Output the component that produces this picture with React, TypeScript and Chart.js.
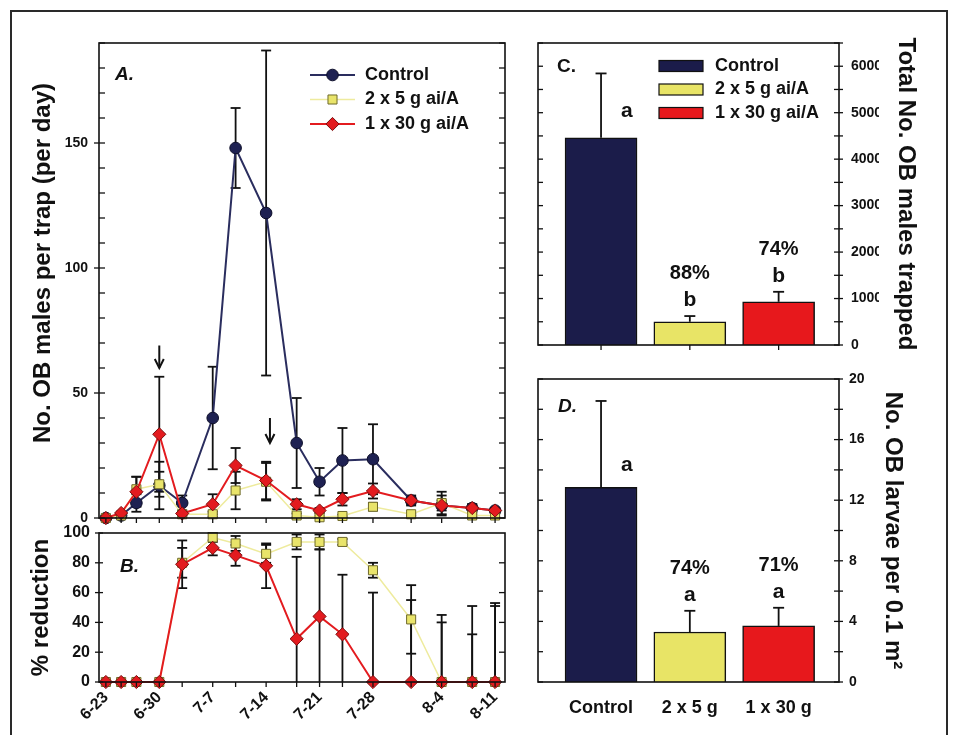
import React, { useEffect, useRef } from 'react';
import { Chart, registerables } from 'chart.js';

Chart.register(...registerables);

const W = 953;
const H = 735;
const FONT = '"Liberation Sans", Arial, Helvetica, sans-serif';
Chart.defaults.font.family = FONT;
Chart.defaults.color = '#111';

// ---------------- data ----------------
// sampling dates, days after 6-23
const sampleDays = [0, 2, 4, 7, 10, 14, 17, 21, 25, 28, 31, 35, 40, 44, 48, 51];
const dateTickDays = [0, 7, 14, 21, 28, 35, 44, 51];
const dateTickLabels = ['6-23', '6-30', '7-7', '7-14', '7-21', '7-28', '8-4', '8-11'];
const seriesNames = ['Control', '2 x 5 g ai/A', '1 x 30 g ai/A'];

// Panel A: males per trap per day
const controlMales = [0, 1, 6, 13, 6, 40, 148, 122, 30, 14.5, 23, 23.5, 7, 5, 4, 3];
const controlMalesSE = [0, 0.5, 3.5, 9.5, 3, 20.5, 16, 65, 18, 5.5, 13, 14, 1.5, 4, 1.5, 1];
const lowDoseMales = [0, 1, 11.5, 13.5, 1.5, 1.5, 11, 14.5, 1, 0.3, 0.8, 4.5, 1.5, 6, 1, 1];
const lowDoseMalesSE = [0, 0.5, 5, 5, 0.5, 1, 7.5, 7.5, 0.8, 0.3, 0.5, 1.5, 0.5, 4.5, 0.5, 0.5];
const highDoseMales = [0, 2, 10.5, 33.5, 1.8, 5.5, 21, 15, 5.5, 3, 7.5, 10.8, 7, 5, 4, 3];
const highDoseMalesSE = [0, 0.5, 6, 23, 0.8, 4, 7, 7.5, 2, 1, 2.5, 3, 2, 2, 1.5, 1];
// application arrows (day, arrow top value, arrow tip value)
const arrowDays = [7, 21.5];
const arrowTops = [69, 40];
const arrowTips = [60, 30];

// Panel B: % reduction
const lowDoseReduction = [0, 0, 0, 0, 80, 97, 93, 86, 94, 94, 94, 75, 42, 0, 0, 0];
const lowDoseReductionSE = [0, 0, 0, 0, 10, 3, 5, 6, 5, 5, 2, 5, 23, 40, 32, 51];
const highDoseReduction = [0, 0, 0, 0, 79, 90, 85, 78, 29, 44, 32, 0, 0, 0, 0, 0];
const highDoseReductionSE = [0, 0, 0, 0, 16, 5, 7, 15, 55, 45, 40, 60, 55, 45, 51, 53];

// Panels C & D
const treatmentPos = [1, 2, 3];
const treatmentShort = ['Control', '2 x 5 g', '1 x 30 g'];
const totalMales = [4460, 500, 930];
const totalMalesSE = [1385, 123, 215];
const totalMalesLetters = ['a', 'b', 'b'];
const totalMalesPct = ['', '88%', '74%'];
const totalMalesControlLetterAt = 4900;
const larvae = [12.85, 3.3, 3.7];
const larvaeSE = [5.7, 1.4, 1.2];
const larvaeLetters = ['a', 'a', 'a'];
const larvaePct = ['', '74%', '71%'];
const larvaeControlLetterAt = 13.9;

// ---------------- styles ----------------
const NAVY = '#1e2152';
const NAVY_LINE = '#2a2d5e';
const YELLOW = '#e9e46a';
const YELLOW_LINE = '#eeeb9e';
const YELLOW_EDGE = '#6f6a2a';
const RED = '#e31b1f';
const RED_EDGE = '#7a0c0c';
const BAR_COLORS = ['#1b1c4a', '#e8e466', '#e7181c'];
const INK = '#111';

const lineStyles: any[] = [
  { borderColor: NAVY_LINE, borderWidth: 2, pointStyle: 'circle', pointRadius: 5.8, pointBackgroundColor: NAVY, pointBorderColor: '#0c0d28' },
  { borderColor: YELLOW_LINE, borderWidth: 1.5, pointStyle: 'rect', pointRadius: 6.4, pointBackgroundColor: YELLOW, pointBorderColor: YELLOW_EDGE },
  { borderColor: RED, borderWidth: 2, pointStyle: 'rectRot', pointRadius: 6.6, pointBackgroundColor: RED, pointBorderColor: RED_EDGE },
];

// ---------------- helpers ----------------
function fixSize(size: number) {
  return (s: any) => {
    if (s.isHorizontal()) s.height = size;
    else s.width = size;
    s.paddingLeft = 0;
    s.paddingRight = 0;
    s.paddingTop = 0;
    s.paddingBottom = 0;
  };
}

function seg(ctx: any, x1: number, y1: number, x2: number, y2: number) {
  ctx.beginPath();
  ctx.moveTo(x1, y1);
  ctx.lineTo(x2, y2);
  ctx.stroke();
}

function drawFrame(chart: any) {
  const { ctx, chartArea: a } = chart;
  ctx.save();
  ctx.strokeStyle = INK;
  ctx.lineWidth = 1.6;
  ctx.strokeRect(a.left, a.top, a.right - a.left, a.bottom - a.top);
  ctx.restore();
}

function drawTickMarks(chart: any, scaleId: string, side: string, values: number[] | null, inLen: number, outLen: number, majorOut?: (v: number) => boolean) {
  const { ctx, chartArea: a } = chart;
  const s = chart.scales[scaleId];
  const vals = values ?? s.ticks.map((t: any) => t.value);
  ctx.save();
  ctx.strokeStyle = INK;
  ctx.lineWidth = 1.3;
  vals.forEach((v: number) => {
    const p = s.getPixelForValue(v);
    const out = majorOut ? (majorOut(v) ? outLen : 0) : outLen;
    if (side === 'left') seg(ctx, a.left - out, p, a.left + inLen, p);
    else if (side === 'right') seg(ctx, a.right - inLen, p, a.right + out, p);
    else if (side === 'bottom') seg(ctx, p, a.bottom - inLen, p, a.bottom + out);
  });
  ctx.restore();
}

function drawErrorBars(chart: any, xs: number[], means: number[], ses: number[], cap: number, upOnly: boolean) {
  const { ctx, chartArea: a } = chart;
  const sx = chart.scales.x;
  const sy = chart.scales.y;
  ctx.save();
  ctx.beginPath();
  ctx.rect(a.left - cap, a.top - 1, a.right - a.left + 2 * cap, a.bottom - a.top + 1);
  ctx.clip();
  ctx.strokeStyle = INK;
  ctx.lineWidth = 1.8;
  xs.forEach((xv, i) => {
    const se = ses[i];
    if (!se) return;
    const x = sx.getPixelForValue(xv);
    const yTop = sy.getPixelForValue(means[i] + se);
    const yBot = sy.getPixelForValue(upOnly ? means[i] : means[i] - se);
    seg(ctx, x, yTop, x, yBot);
    seg(ctx, x - cap / 2, yTop, x + cap / 2, yTop);
    if (!upOnly) seg(ctx, x - cap / 2, yBot, x + cap / 2, yBot);
  });
  ctx.restore();
}

function drawMarker(ctx: any, style: string, x: number, y: number, r: number, fill: string, stroke: string) {
  ctx.beginPath();
  if (style === 'circle') ctx.arc(x, y, r, 0, Math.PI * 2);
  else if (style === 'rect') {
    const s = r * Math.SQRT1_2;
    ctx.rect(x - s, y - s, 2 * s, 2 * s);
  } else {
    ctx.moveTo(x, y - r);
    ctx.lineTo(x + r, y);
    ctx.lineTo(x, y + r);
    ctx.lineTo(x - r, y);
    ctx.closePath();
  }
  ctx.fillStyle = fill;
  ctx.fill();
  ctx.strokeStyle = stroke;
  ctx.lineWidth = 1;
  ctx.stroke();
}

function text(ctx: any, str: string, x: number, y: number, font: string, align = 'left', baseline = 'alphabetic', rot = 0) {
  ctx.save();
  ctx.translate(x, y);
  ctx.rotate(rot);
  ctx.font = font;
  ctx.fillStyle = INK;
  ctx.textAlign = align;
  ctx.textBaseline = baseline;
  ctx.fillText(str, 0, 0);
  ctx.restore();
}

const bold = (px: number) => `bold ${px}px ${FONT}`;
const boldItalic = (px: number) => `italic bold ${px}px ${FONT}`;

function lineDatasets(series: number[][], styleIdx: number[]) {
  return series.map((arr, k) => ({
    label: seriesNames[styleIdx[k]],
    data: sampleDays.map((d, i) => ({ x: d, y: arr[i] })),
    ...lineStyles[styleIdx[k]],
    pointBorderWidth: 1,
    tension: 0,
    clip: false,
    order: 3 - styleIdx[k],
  }));
}

const dayAxis = { type: 'linear', min: -0.9, max: 52.3, offset: false };

// ---------------- Panel A ----------------
function configA(): any {
  const decor = {
    id: 'decorA',
    beforeDatasetsDraw(chart: any) {
      drawErrorBars(chart, sampleDays, controlMales, controlMalesSE, 10, false);
      drawErrorBars(chart, sampleDays, lowDoseMales, lowDoseMalesSE, 10, false);
      drawErrorBars(chart, sampleDays, highDoseMales, highDoseMalesSE, 10, false);
    },
    afterDraw(chart: any) {
      const { ctx } = chart;
      drawFrame(chart);
      drawTickMarks(chart, 'y', 'left', null, 6, 5, (v) => v % 50 === 0);
      drawTickMarks(chart, 'y', 'right', null, 6, 0);
      drawTickMarks(chart, 'x', 'bottom', sampleDays, 0, 5);
      // arrows
      const sx = chart.scales.x;
      const sy = chart.scales.y;
      ctx.save();
      ctx.strokeStyle = INK;
      ctx.lineWidth = 2;
      arrowDays.forEach((d, i) => {
        const x = sx.getPixelForValue(d);
        const y0 = sy.getPixelForValue(arrowTops[i]);
        const y1 = sy.getPixelForValue(arrowTips[i]);
        seg(ctx, x, y0, x, y1);
        ctx.beginPath();
        ctx.moveTo(x - 4.5, y1 - 9);
        ctx.lineTo(x, y1);
        ctx.lineTo(x + 4.5, y1 - 9);
        ctx.stroke();
      });
      ctx.restore();
      // legend
      const rows = [75, 99.5, 124];
      chart.data.datasets.forEach((ds: any, i: number) => {
        const y = rows[i];
        ctx.save();
        ctx.strokeStyle = ds.borderColor;
        ctx.lineWidth = ds.borderWidth;
        seg(ctx, 310, y, 355, y);
        drawMarker(ctx, ds.pointStyle, 332.5, y, ds.pointRadius, ds.pointBackgroundColor, ds.pointBorderColor);
        ctx.restore();
        text(ctx, ds.label, 365, y, bold(18), 'left', 'middle');
      });
      text(ctx, 'A.', 115, 80, boldItalic(19));
      text(ctx, 'No. OB males per trap (per day)', 43.5, 263, bold(24), 'center', 'middle', -Math.PI / 2);
    },
  };
  return {
    type: 'line',
    data: { datasets: lineDatasets([controlMales, lowDoseMales, highDoseMales], [0, 1, 2]) },
    options: {
      responsive: false,
      animation: false,
      events: [],
      layout: { padding: { left: 99 - 45, top: 43, right: W - 505, bottom: H - 518 } },
      plugins: { legend: { display: false }, tooltip: { enabled: false } },
      scales: {
        x: { ...dayAxis, display: false },
        y: {
          type: 'linear',
          min: 0,
          max: 190,
          afterFit: fixSize(45),
          grid: { display: false, drawTicks: false },
          border: { display: false },
          ticks: {
            stepSize: 10,
            autoSkip: false,
            padding: 11,
            font: { size: 14, weight: 'bold' },
            color: INK,
            callback: (v: any) => (Number(v) % 50 === 0 ? String(v) : ''),
          },
        },
      },
    },
    plugins: [decor],
  };
}

// ---------------- Panel B ----------------
function configB(): any {
  const decor = {
    id: 'decorB',
    beforeDatasetsDraw(chart: any) {
      drawErrorBars(chart, sampleDays, lowDoseReduction, lowDoseReductionSE, 10, false);
      drawErrorBars(chart, sampleDays, highDoseReduction, highDoseReductionSE, 10, false);
    },
    afterDraw(chart: any) {
      const { ctx } = chart;
      drawFrame(chart);
      drawTickMarks(chart, 'y', 'left', null, 4, 4);
      drawTickMarks(chart, 'y', 'right', [20, 40, 60, 80], 6, 0);
      drawTickMarks(chart, 'x', 'bottom', sampleDays, 0, 5);
      text(ctx, 'B.', 120, 572, boldItalic(19));
      text(ctx, '% reduction', 41.5, 607.5, bold(24), 'center', 'middle', -Math.PI / 2);
    },
  };
  return {
    type: 'line',
    data: { datasets: lineDatasets([lowDoseReduction, highDoseReduction], [1, 2]) },
    options: {
      responsive: false,
      animation: false,
      events: [],
      layout: { padding: { left: 99 - 45, top: 533, right: W - 505, bottom: H - 682 - 50 } },
      plugins: { legend: { display: false }, tooltip: { enabled: false } },
      scales: {
        x: {
          ...dayAxis,
          afterBuildTicks: (s: any) => {
            s.ticks = dateTickDays.map((v) => ({ value: v }));
          },
          afterFit: fixSize(50),
          grid: { display: false, drawTicks: false },
          border: { display: false },
          ticks: {
            autoSkip: false,
            minRotation: 45,
            maxRotation: 45,
            padding: 6,
            font: { size: 16, weight: 'bold' },
            color: INK,
            callback: (v: any) => {
              const i = dateTickDays.indexOf(Number(v));
              return i >= 0 ? dateTickLabels[i] : '';
            },
          },
        },
        y: {
          type: 'linear',
          min: 0,
          max: 100,
          afterFit: fixSize(45),
          grid: { display: false, drawTicks: false },
          border: { display: false },
          ticks: { stepSize: 20, padding: 9, font: { size: 16, weight: 'bold' }, color: INK },
        },
      },
    },
    plugins: [decor],
  };
}

// ---------------- Panels C & D ----------------
function configBars(opts: {
  top: number;
  bottom: number;
  values: number[];
  ses: number[];
  letters: string[];
  pcts: string[];
  controlLetterAt: number;
  yMax: number;
  step: number;
  labelEvery: number;
  tickFont: number;
  tickPad: number;
  panel: string;
  panelItalic: boolean;
  panelPos: [number, number];
  title: string;
  titleX: number;
  showXLabels: boolean;
  legend: boolean;
}): any {
  const decor = {
    id: 'decor' + opts.panel,
    afterDraw(chart: any) {
      const { ctx } = chart;
      const sx = chart.scales.x;
      const sy = chart.scales.y;
      drawErrorBars(chart, treatmentPos, opts.values, opts.ses, 11, true);
      drawFrame(chart);
      drawTickMarks(chart, 'y', 'left', null, 5, 0);
      drawTickMarks(chart, 'y', 'right', null, 5, 4);
      if (!opts.showXLabels) drawTickMarks(chart, 'x', 'bottom', treatmentPos, 0, 5);
      // significance letters and % reductions
      treatmentPos.forEach((xv, i) => {
        const x = sx.getPixelForValue(xv);
        if (i === 0) {
          const lx = sx.getPixelForValue(xv + 0.29);
          text(ctx, opts.letters[i], lx, sy.getPixelForValue(opts.controlLetterAt), bold(21), 'center');
          return;
        }
        const errTop = sy.getPixelForValue(opts.values[i] + opts.ses[i]);
        const base = errTop - 10;
        text(ctx, opts.letters[i], x, base, bold(21), 'center');
        if (opts.pcts[i]) text(ctx, opts.pcts[i], x, base - 27, bold(20), 'center');
      });
      if (opts.legend) {
        const rows = [66, 89.5, 113];
        seriesNames.forEach((name, i) => {
          ctx.save();
          ctx.fillStyle = BAR_COLORS[i];
          ctx.fillRect(659, rows[i] - 5.5, 44, 11);
          ctx.strokeStyle = INK;
          ctx.lineWidth = 1.2;
          ctx.strokeRect(659, rows[i] - 5.5, 44, 11);
          ctx.restore();
          text(ctx, name, 715, rows[i], bold(18), 'left', 'middle');
        });
      }
      text(ctx, opts.panel + '.', opts.panelPos[0], opts.panelPos[1], opts.panelItalic ? boldItalic(19) : bold(19));
      const a = chart.chartArea;
      text(ctx, opts.title, opts.titleX, (a.top + a.bottom) / 2, bold(24), 'center', 'middle', Math.PI / 2);
    },
  };
  return {
    type: 'bar',
    data: {
      datasets: [
        {
          label: 'values',
          data: treatmentPos.map((x, i) => ({ x, y: opts.values[i] })),
          backgroundColor: BAR_COLORS,
          borderColor: INK,
          borderWidth: 1.5,
          barThickness: 72,
        },
      ],
    },
    options: {
      responsive: false,
      animation: false,
      events: [],
      layout: {
        padding: {
          left: 538,
          top: opts.top,
          right: W - 839 - 40,
          bottom: H - opts.bottom - (opts.showXLabels ? 40 : 0),
        },
      },
      plugins: { legend: { display: false }, tooltip: { enabled: false } },
      scales: {
        x: opts.showXLabels
          ? {
              type: 'linear',
              min: 0.29,
              max: 3.68,
              offset: false,
              afterBuildTicks: (s: any) => {
                s.ticks = treatmentPos.map((v) => ({ value: v }));
              },
              afterFit: fixSize(40),
              grid: { display: false, drawTicks: false, offset: false },
              border: { display: false },
              ticks: {
                autoSkip: false,
                maxRotation: 0,
                padding: 15,
                font: { size: 18, weight: 'bold' },
                color: INK,
                callback: (v: any) => {
                  const i = treatmentPos.indexOf(Number(v));
                  return i >= 0 ? treatmentShort[i] : '';
                },
              },
            }
          : { type: 'linear', min: 0.29, max: 3.68, offset: false, grid: { offset: false }, display: false },
        y: {
          type: 'linear',
          position: 'right',
          min: 0,
          max: opts.yMax,
          afterFit: fixSize(40),
          grid: { display: false, drawTicks: false },
          border: { display: false },
          ticks: {
            stepSize: opts.step,
            autoSkip: false,
            padding: opts.tickPad,
            font: { size: opts.tickFont, weight: 'bold' },
            color: INK,
            callback: (v: any) => (Number(v) % opts.labelEvery === 0 ? String(v) : ''),
          },
        },
      },
    },
    plugins: [decor],
  };
}

function configC(): any {
  return configBars({
    top: 43,
    bottom: 345,
    values: totalMales,
    ses: totalMalesSE,
    letters: totalMalesLetters,
    pcts: totalMalesPct,
    controlLetterAt: totalMalesControlLetterAt,
    yMax: 6500,
    step: 500,
    labelEvery: 1000,
    tickFont: 14,
    tickPad: 12,
    panel: 'C',
    panelItalic: false,
    panelPos: [557, 72],
    title: 'Total No. OB males trapped',
    titleX: 906,
    showXLabels: false,
    legend: true,
  });
}

function configD(): any {
  return configBars({
    top: 379,
    bottom: 682,
    values: larvae,
    ses: larvaeSE,
    letters: larvaeLetters,
    pcts: larvaePct,
    controlLetterAt: larvaeControlLetterAt,
    yMax: 20,
    step: 2,
    labelEvery: 4,
    tickFont: 14,
    tickPad: 10,
    panel: 'D',
    panelItalic: true,
    panelPos: [558, 412],
    title: 'No. OB larvae per 0.1 m²',
    titleX: 893,
    showXLabels: true,
    legend: false,
  });
}

const canvasStyle: React.CSSProperties = { position: 'absolute', left: 0, top: 0, width: W, height: H };

export default function App() {
  const refA = useRef<HTMLCanvasElement>(null);
  const refB = useRef<HTMLCanvasElement>(null);
  const refC = useRef<HTMLCanvasElement>(null);
  const refD = useRef<HTMLCanvasElement>(null);

  useEffect(() => {
    const charts = [
      new Chart(refA.current as HTMLCanvasElement, configA()),
      new Chart(refB.current as HTMLCanvasElement, configB()),
      new Chart(refC.current as HTMLCanvasElement, configC()),
      new Chart(refD.current as HTMLCanvasElement, configD()),
    ];
    return () => charts.forEach((c) => c.destroy());
  }, []);

  return (
    <div style={{ position: 'absolute', left: 0, top: 0, width: W, height: H, overflow: 'hidden', background: '#fff' }}>
      <div style={{ position: 'absolute', left: 10, top: 10, width: 934, height: 760, border: '2px solid #2a2a2a' }} />
      <canvas ref={refA} width={W} height={H} style={canvasStyle} />
      <canvas ref={refB} width={W} height={H} style={canvasStyle} />
      <canvas ref={refC} width={W} height={H} style={canvasStyle} />
      <canvas ref={refD} width={W} height={H} style={canvasStyle} />
    </div>
  );
}
